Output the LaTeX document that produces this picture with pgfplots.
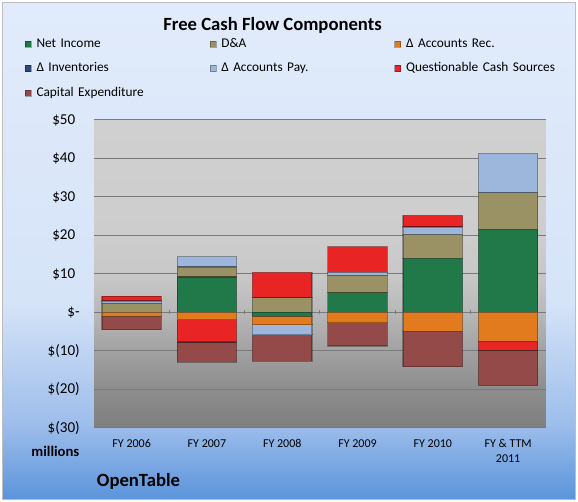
\documentclass[border=0pt]{standalone}
\usepackage{pgfplots}
\pgfplotsset{compat=1.18}
\usepackage{pgfplotstable}
\usepackage{fontspec}
\setmainfont{Carlito}

\definecolor{ob0}{HTML}{5B94DB}
\definecolor{ob1}{HTML}{9DBDEB}
\definecolor{ob2}{HTML}{D6E4F8}
\definecolor{ob3}{HTML}{E1EBFB}
\definecolor{pb0}{HTML}{7F7F7F}
\definecolor{pb1}{HTML}{8C8C8C}
\definecolor{pb2}{HTML}{A2A2A2}
\definecolor{pb3}{HTML}{B9B9B9}
\definecolor{pb4}{HTML}{C6C6C6}
\definecolor{pb5}{HTML}{CDCDCD}
\definecolor{pb6}{HTML}{D0D0D0}
\definecolor{gridgray}{HTML}{7A7A7A}
\definecolor{bordergray}{HTML}{BDBDBD}

\definecolor{cNI}{HTML}{217848}
\definecolor{cDA}{HTML}{9A9265}
\definecolor{cAR}{HTML}{E27A1E}
\definecolor{cINV}{HTML}{2D4A73}
\definecolor{cAP}{HTML}{9DB6DB}
\definecolor{cQCS}{HTML}{E82424}
\definecolor{cCAP}{HTML}{954A4A}

\pgfdeclareverticalshading{outerbg}{100bp}{color(0bp)=(ob0); color(25bp)=(ob0); color(32.5bp)=(ob1); color(45bp)=(ob2); color(75bp)=(ob3); color(100bp)=(ob3)}
\pgfdeclareverticalshading{plotbg}{100bp}{color(0bp)=(pb0); color(25bp)=(pb0); color(31.15bp)=(pb1); color(37.65bp)=(pb2); color(44.15bp)=(pb3); color(49bp)=(pb4); color(55.5bp)=(pb5); color(75bp)=(pb6); color(100bp)=(pb6)}

% positive parts of each component ($ millions)
\pgfplotstableread{
x ni da ar inv ap qcs capex
0 0 2.3 0 0 0.7 1.25 0
1 9.2 2.6 0 0 2.7 0 0
2 0 3.8 0 0 0 6.6 0
3 5.1 4.5 0 0 0.8 6.7 0
4 14.05 6.2 0 0 1.95 3.0 0
5 21.6 9.5 0 0 10.2 0 0
}\posdata
% negative parts of each component ($ millions)
\pgfplotstableread{
x ni da ar inv ap qcs capex
0 0 0 -1.0 0 0 0 -3.5
1 0 0 -1.9 0 0 -5.74 -5.27
2 -1.0 0 -2.2 0 -2.55 0 -6.9
3 0 0 -2.7 0 0 0 -6.0
4 0 0 -4.9 0 0 0 -9.2
5 0 0 -7.5 0 0 -2.3 -9.2
}\negdata

\pgfplotsset{
  mylegend/.style={legend image code/.code={\draw[##1, line width=0.5pt] (0pt,-2.4pt) rectangle (4.6pt,2.4pt);}},
  seg/.style={fill=#1, draw=black, draw opacity=0.3, line width=0.9pt, mylegend},
  common/.style={
    at={(70.5pt,55.5pt)}, anchor=south west,
    width=338.8pt, height=231pt, scale only axis,
    xmin=-0.5, xmax=5.5, ymin=-30, ymax=50,
    ybar stacked, bar width=0.79,
  },
}

\begin{document}
\begin{tikzpicture}
\useasboundingbox (0,0) rectangle (433.5pt,376.5pt);
\fill[white] (0,0) rectangle (433.5pt,376.5pt);
\shadedraw[shading=outerbg, draw=bordergray, line width=0.75pt] (2pt,1.9pt) rectangle (431.6pt,374.6pt);

\begin{axis}[
  common,
  axis background/.style={shade, shading=plotbg},
  axis line style={draw=none},
  major tick length=0pt,
  ytick={-30,-20,-10,0,10,20,30,40,50},
  yticklabels={\$(30),\$(20),\$(10),\$-\hspace{6.75pt},\$10\phantom{)},\$20\phantom{)},\$30\phantom{)},\$40\phantom{)},\$50\phantom{)}},
  ymajorgrids, grid style={draw=gridgray, line width=0.75pt},
  xtick={0,1,2,3,4,5},
  xticklabels={FY 2006,FY 2007,FY 2008,FY 2009,FY 2010,{FY \& TTM\\2011}},
  x tick label style={font=\fontsize{9}{10.7}\selectfont, align=center, anchor=north, inner sep=0pt, yshift=-8.6pt},
  y tick label style={font=\fontsize{11.3}{13}\selectfont, anchor=east, inner sep=0pt, xshift=-10.5pt},
  legend columns=3,
  legend cell align=left,
  legend style={at={(axis description cs:-0.1534,1.266)}, anchor=north west, draw=none, fill=none, inner sep=0pt, outer sep=0pt, column sep=3.75pt, row sep=9.4pt, font=\fontsize{10}{12}\selectfont, nodes={text width=126pt, align=left, inner sep=0pt, text height=7pt, text depth=2pt}},
]
\addplot[seg=cNI]  table[x=x, y=ni]    {\posdata};
\addlegendentry{Net Income}
\addplot[seg=cDA]  table[x=x, y=da]    {\posdata};
\addlegendentry{D\&A}
\addplot[seg=cAR]  table[x=x, y=ar]    {\posdata};
\addlegendentry{Δ Accounts Rec.}
\addplot[seg=cINV] table[x=x, y=inv]   {\posdata};
\addlegendentry{Δ Inventories}
\addplot[seg=cAP]  table[x=x, y=ap]    {\posdata};
\addlegendentry{Δ Accounts Pay.}
\addplot[seg=cQCS] table[x=x, y=qcs]   {\posdata};
\addlegendentry{Questionable Cash Sources}
\addplot[seg=cCAP] table[x=x, y=capex] {\posdata};
\addlegendentry{Capital Expenditure}
\end{axis}

\begin{axis}[
  common,
  axis x line=middle, axis y line=none,
  axis line style={draw=gridgray, line width=0.75pt, -},
  xtick={0.5,1.5,2.5,3.5,4.5}, xticklabels={},
  ytick=\empty,
  major tick length=3pt, tick align=center,
  tick style={draw=gridgray, line width=0.75pt},
]
\addplot[seg=cNI]  table[x=x, y=ni]    {\negdata};
\addplot[seg=cDA]  table[x=x, y=da]    {\negdata};
\addplot[seg=cAR]  table[x=x, y=ar]    {\negdata};
\addplot[seg=cINV] table[x=x, y=inv]   {\negdata};
\addplot[seg=cAP]  table[x=x, y=ap]    {\negdata};
\addplot[seg=cQCS] table[x=x, y=qcs]   {\negdata};
\addplot[seg=cCAP] table[x=x, y=capex] {\negdata};
\end{axis}

\node[font=\fontsize{14}{16}\selectfont\bfseries, inner sep=0pt] at (204.4pt,357.75pt) {Free Cash Flow Components};
\node[font=\fontsize{11}{13}\selectfont\bfseries, inner sep=0pt] at (41.5pt,38.25pt) {millions};
\node[font=\fontsize{14}{16}\selectfont\bfseries, inner sep=0pt, anchor=west] at (72.5pt,15.2pt) {OpenTable};
\end{tikzpicture}
\end{document}
